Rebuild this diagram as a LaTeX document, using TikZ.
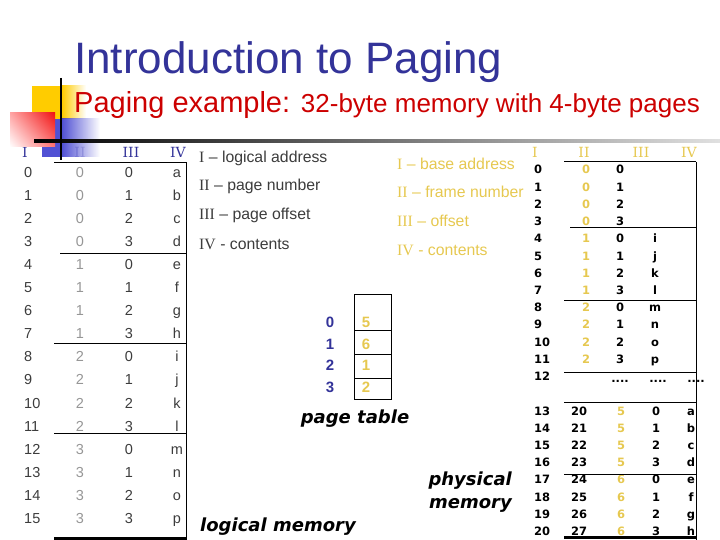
\documentclass[tikz,border=0pt]{standalone}
\usepackage{fontspec}
\setmainfont{Liberation Sans}
\newfontfamily\romanfont{Liberation Serif}
\newfontfamily\numeralfont{DejaVu Serif}
\newfontfamily\heavyfont{DejaVu Sans}
\usepackage{tikz}
\usetikzlibrary{positioning,shadings}
\usepackage{xcolor}

\definecolor{titleblue}{RGB}{51,51,153}
\definecolor{subred}{RGB}{204,0,0}
\definecolor{frameyellow}{RGB}{230,200,80}
\definecolor{inkgray}{RGB}{60,60,60}
\definecolor{pagegray}{RGB}{150,150,150}
\definecolor{decoblue}{RGB}{51,51,204}
\definecolor{decoyellow}{RGB}{255,204,0}
\definecolor{decored}{RGB}{240,20,20}

\begin{document}
\begin{tikzpicture}[x=1pt,y=-1pt,
  lcell/.style={inner sep=0pt, anchor=base, font=\fontsize{14.5}{15}\selectfont, text=inkgray},
  pcell/.style={inner sep=0pt, anchor=base, font=\heavyfont\bfseries\fontsize{11.5}{12}\selectfont},
  numeral/.style={inner sep=0pt, anchor=base, font=\numeralfont\fontsize{14}{15}\selectfont},
  legend/.style={inner sep=0pt, anchor=base west, font=\fontsize{15.8}{16}\selectfont},
  caption/.style={inner sep=0pt, font=\heavyfont\bfseries\itshape\fontsize{18}{23}\selectfont},
  rule/.style={line width=1pt},
  ]
  \useasboundingbox (0,0) rectangle (720,540);

  %% Logical memory header
  \node[numeral, text=titleblue] (lhI)   at (25,157.5)  {I};
  \node[numeral, text=titleblue] (lhII)  at (80,157.5)  {II};
  \node[numeral, text=titleblue] (lhIII) at (131,157.5) {III};
  \node[numeral, text=titleblue] (lhIV)  at (178,157.5) {IV};

  %% Decoration
  \fill[decoyellow] (32,86) rectangle (62,119);
  \shade[left color=decoyellow, right color=white] (62,86) rectangle (86,119);
  \fill[decoblue, fill opacity=0.85] (42,119) rectangle (62,157);
  \shade[left color=decoblue, right color=white, fill opacity=0.85] (62,119) rectangle (100,157);
  \shade[upper right=decored, upper left=red!35, lower right=red!55, lower left=white]
    (10,113) rectangle (55,147);
  \shade[left color=black, middle color=black!55, right color=black!12] (34,140) rectangle (720,142.5);
  \draw[line width=2pt] (61,78) -- (61,160);

  %% Title lines
  \node[inner sep=0pt, anchor=base west, text=titleblue,
        font=\fontsize{44}{44}\selectfont] (title) at (74,74) {Introduction to Paging};
  \node[inner sep=0pt, anchor=base west, text=subred,
        font=\fontsize{29}{29}\selectfont] (subtitle) at (74,113)
        {Paging example: {\fontsize{26}{26}\selectfont 32-byte memory with 4-byte pages}};

  %% Logical memory (address, page, offset, contents)
  \foreach \k/\ch in {0/a, 1/b, 2/c, 3/d, 4/e, 5/f, 6/g, 7/h,
                      8/i, 9/j, 10/k, 11/l, 12/m, 13/n, 14/o, 15/p}{
    \pgfmathtruncatemacro\pg{\k/4}
    \pgfmathtruncatemacro\off{mod(\k,4)}
    \node[lcell, anchor=base west] (la\k) at (24,177.3+23.07*\k) {\k};
    \node[lcell, text=pagegray] (lp\k) at (80,177.3+23.07*\k) {\pg};
    \node[lcell] (lo\k) at (129,177.3+23.07*\k) {\off};
    \node[lcell] (lc\k) at (177,177.3+23.07*\k) {\ch};
  }
  \draw[rule] (54,163) -- (186,163) -- (186,538);
  \draw[rule] (60,253) -- (186,253);
  \draw[rule] (54,343) -- (186,343);
  \draw[rule] (54,433) -- (186,433);
  \draw[line width=3pt] (54,538) -- (187,538);

  %% Legends
  \node[legend, text=inkgray] (lgI)   at (199,162.5) {{\romanfont I} -- logical address};
  \node[legend, text=inkgray] (lgII)  at (199,191)   {{\romanfont II} -- page number};
  \node[legend, text=inkgray] (lgIII) at (199,220)   {{\romanfont III} -- page offset};
  \node[legend, text=inkgray] (lgIV)  at (199,249)   {{\romanfont IV} - contents};
  \node[legend, text=frameyellow] (rgI)   at (397,169.5) {{\romanfont I} -- base address};
  \node[legend, text=frameyellow] (rgII)  at (397,197.5) {{\romanfont II} -- frame number};
  \node[legend, text=frameyellow] (rgIII) at (397,226.5) {{\romanfont III} -- offset};
  \node[legend, text=frameyellow] (rgIV)  at (397,255.5) {{\romanfont IV} - contents};

  %% Page table
  \foreach \k/\fr/\y in {0/5/327, 1/6/349, 2/1/370.5, 3/2/392}{
    \node[inner sep=0pt, anchor=base, text=titleblue,
          font=\bfseries\fontsize{15}{15}\selectfont] (ptn\k) at (330,\y) {\k};
    \node[inner sep=0pt, anchor=base, text=frameyellow,
          font=\bfseries\fontsize{15}{15}\selectfont] (ptf\k) at (366,\y) {\fr};
  }
  \draw[rule] (354,294) rectangle (391,399);
  \draw[rule] (354,330) -- (391,330);
  \draw[rule] (354,354) -- (391,354);
  \draw[rule] (354,378) -- (391,378);

  %% Physical memory header
  \node[numeral, text=frameyellow] (phI)   at (535,158) {I};
  \node[numeral, text=frameyellow] (phII)  at (584,158) {II};
  \node[numeral, text=frameyellow] (phIII) at (641,158) {III};
  \node[numeral, text=frameyellow] (phIV)  at (689,158) {IV};

  %% Physical memory, frames 0-2
  \foreach \k in {0,...,11}{
    \pgfmathtruncatemacro\fr{\k/4}
    \pgfmathtruncatemacro\off{mod(\k,4)}
    \node[pcell, anchor=base west] (pa\k) at (534,174+17.22*\k) {\k};
    \node[pcell, text=frameyellow] (pf\k) at (586,174+17.22*\k) {\fr};
    \node[pcell] (po\k) at (620,174+17.22*\k) {\off};
  }
  \foreach \k/\ch in {4/i, 5/j, 6/k, 7/l, 8/m, 9/n, 10/o, 11/p}{
    \node[pcell] (pc\k) at (655,174+17.22*\k) {\ch};
  }
  \node[pcell, anchor=base west] (pa12) at (534,380.6) {12};
  \node[pcell] (pd1) at (620,382) {....};
  \node[pcell] (pd2) at (658,382) {....};
  \node[pcell] (pd3) at (696,382) {....};

  %% Physical memory, frames 5-6
  \foreach \k/\ch in {13/a, 14/b, 15/c, 16/d, 17/e, 18/f, 19/g, 20/h}{
    \pgfmathtruncatemacro\addr{\k+7}
    \pgfmathtruncatemacro\fr{(\k-13)/4+5}
    \pgfmathtruncatemacro\off{mod(\k-13,4)}
    \pgfmathsetmacro\yy{415+17.22*(\k-13)}
    \node[pcell, anchor=base west] (pa\k) at (534,\yy) {\k};
    \node[pcell] (pb\k) at (579,\yy) {\addr};
    \node[pcell, text=frameyellow] (pf\k) at (621,\yy) {\fr};
    \node[pcell] (po\k) at (656,\yy) {\off};
    \node[pcell] (pc\k) at (691,\yy) {\ch};
  }
  \draw[rule] (564,162) -- (696,162);
  \draw[rule] (696,162) -- (696,540);
  \draw[rule] (570,228) -- (696,228);
  \draw[rule] (564,300) -- (696,300);
  \draw[rule] (564,372) -- (696,372);
  \draw[rule] (564,402) -- (696,402);
  \draw[rule] (564,474) -- (696,474);
  \draw[line width=3pt] (564,537) -- (696,537);

  %% Captions
  \node[caption, anchor=base] (ptlabel) at (355,423) {page table};
  \node[caption, anchor=base west] (lmlabel) at (200,531.5) {logical memory};
  \node[caption, anchor=base east, align=right] (pmlabel) at (512,508.5) {physical\\memory};

\end{tikzpicture}
\end{document}
